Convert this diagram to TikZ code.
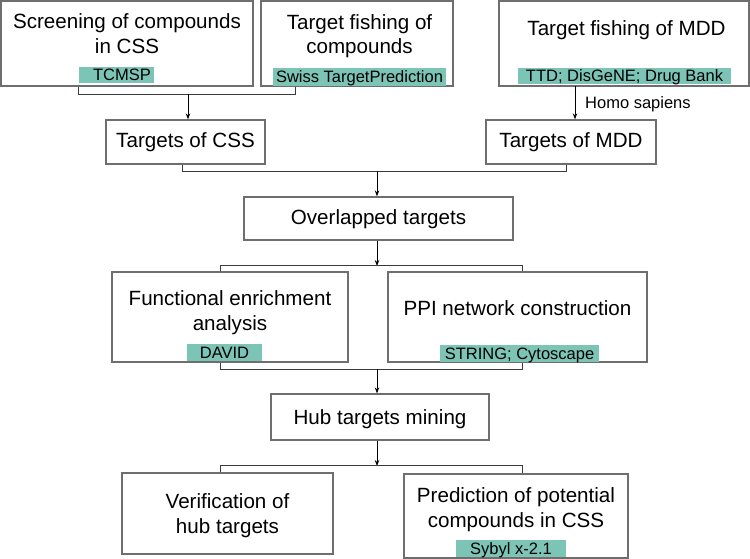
\documentclass[tikz,border=0pt]{standalone}
\usepackage{fontspec}
\setmainfont{Liberation Sans}
\usetikzlibrary{arrows.meta}
\definecolor{boxgray}{HTML}{6E6E6E}
\definecolor{linegray}{HTML}{3A3A3A}
\definecolor{tagteal}{HTML}{7CC4B6}
\tikzset{
  box/.style={draw=boxgray, line width=1.3pt, inner sep=0pt},
  txt/.style={anchor=base, inner sep=0pt, font=\fontsize{20.6}{25}\selectfont},
  tag/.style={fill=tagteal, inner sep=0pt, font=\fontsize{16.5}{19}\selectfont, text height=11.8pt, text depth=0pt},
  small/.style={anchor=base west, inner sep=0pt, font=\fontsize{16.5}{19}\selectfont},
  conn/.style={draw=linegray, line width=0.9pt},
  arr/.style={draw=black, line width=0.9pt, -{Stealth[length=6pt,width=4.5pt]}}
}
\begin{document}
\begin{tikzpicture}[x=1pt,y=-1pt]
\useasboundingbox[fill=white] (0,0) rectangle (750,559);
% boxes
\node[box, minimum width=252pt, minimum height=85pt] (b1) at (127,43.5) {};
\node[box, minimum width=192pt, minimum height=85pt] (b2) at (357,43.5) {};
\node[box, minimum width=250pt, minimum height=85pt] (b3) at (624,43.5) {};
\node[box, minimum width=159pt, minimum height=44pt] (tcss) at (185.5,142) {};
\node[box, minimum width=170pt, minimum height=44pt] (tmdd) at (571,142) {};
\node[box, minimum width=269pt, minimum height=43pt] (ovl) at (378.5,218.5) {};
\node[box, minimum width=236pt, minimum height=90pt] (func) at (230,317) {};
\node[box, minimum width=259pt, minimum height=90pt] (ppi) at (517.5,317) {};
\node[box, minimum width=218pt, minimum height=46pt] (hub) at (380,417) {};
\node[box, minimum width=211pt, minimum height=81pt] (ver) at (227.5,513.5) {};
\node[box, minimum width=224pt, minimum height=84pt] (pred) at (516,516) {};
% tags
\node[tag, minimum width=75pt, minimum height=16pt] (t1) at (116.5,75) {\hspace*{11pt}TCMSP};
\node[tag, minimum width=173pt, minimum height=18pt] (t2) at (359.5,77) {Swiss TargetPrediction};
\node[tag, minimum width=213pt, minimum height=16pt] (t3) at (624.5,76) {TTD; DisGeNE; Drug Bank};
\node[tag, minimum width=75pt, minimum height=17pt] (t4) at (224.5,352.5) {DAVID};
\node[tag, minimum width=159pt, minimum height=17pt] (t5) at (519.5,353.5) {STRING; Cytoscape};
\node[tag, minimum width=110pt, minimum height=17pt] (t6) at (511,548.5) {Sybyl x-2.1};
% texts
\node[txt] (b1a) at (127,29) {Screening of compounds};
\node[txt] (b1b) at (127,54) {in CSS};
\node[txt] (b2a) at (359.5,29.5) {Target fishing of};
\node[txt] (b2b) at (359.5,54) {compounds};
\node[txt] (b3a) at (626.5,36) {Target fishing of MDD};
\node[txt] (tcssa) at (185.5,148) {Targets of CSS};
\node[txt] (tmdda) at (571,148) {Targets of MDD};
\node[txt] (ovla) at (378.5,224) {Overlapped targets};
\node[txt] (funca) at (230,305.5) {Functional enrichment};
\node[txt] (funcb) at (230,330) {analysis};
\node[txt] (ppia) at (517.5,315) {PPI network construction};
\node[txt] (huba) at (380,424) {Hub targets mining};
\node[txt] (vera) at (227.5,508) {Verification of};
\node[txt] (verb) at (227.5,533) {hub targets};
\node[txt] (preda) at (516,502) {Prediction of potential};
\node[txt] (predb) at (516,527) {compounds in CSS};
% connectors
\draw[conn] ([xshift=78pt]b1.south west) -- ++(0,8) coordinate (j1l) -| ([xshift=35pt]b2.south west);
\coordinate (j1) at (188,94);
\draw[arr] (j1) -- (j1 |- tcss.north);
\coordinate (j2) at (575,86);
\draw[arr] (j2) -- (j2 |- tmdd.north);
\node[small] (homo) at (585,109) {Homo sapiens};
\draw[conn] ([xshift=77pt]tcss.south west) -- ++(0,7) -| ([xshift=81pt]tmdd.south west);
\coordinate (j3) at (377,171);
\draw[arr] (j3) -- (j3 |- ovl.north);
\coordinate (j4) at (377,266);
\draw[arr] (ovl.south -| j4) -- (j4);
\draw[conn] ([xshift=109pt]func.north west) -- ++(0,-6) -| ([xshift=135pt]ppi.north west);
\draw[conn] ([xshift=109pt]func.south west) -- ++(0,7) -| ([xshift=135pt]ppi.south west);
\coordinate (j5) at (377,369);
\draw[arr] (j5) -- (j5 |- hub.north);
\coordinate (j6) at (377,466);
\draw[arr] (hub.south -| j6) -- (j6);
\draw[conn] ([xshift=99pt]ver.north west) -- ++(0,-7) -| ([xshift=119pt]pred.north west);
\end{tikzpicture}
\end{document}
